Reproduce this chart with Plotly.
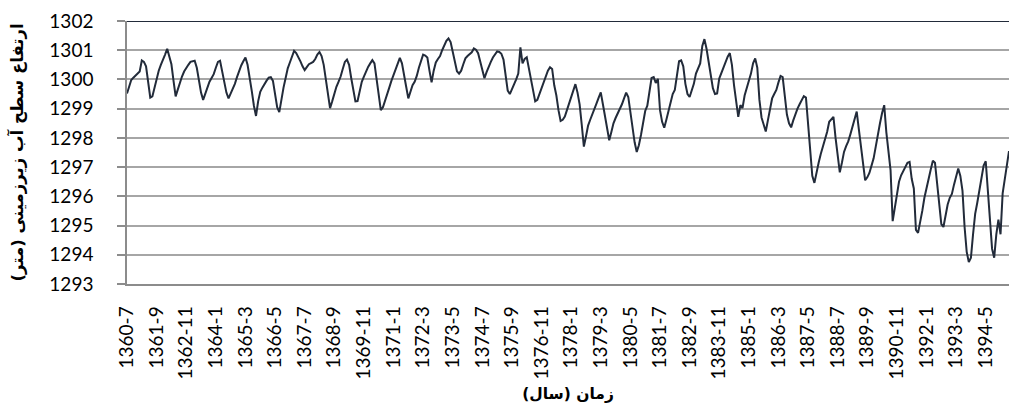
import plotly.graph_objects as go

# Groundwater level (m), monthly, starting 1360-7
levels = [
    1299.52, 1299.80, 1299.98, 1300.06, 1300.13, 1300.18, 1300.27, 1300.65, 1300.60, 1300.45, 1299.90, 1299.38,
    1299.42, 1299.75, 1300.08, 1300.30, 1300.50, 1300.65, 1300.85, 1301.05, 1300.80, 1300.52, 1299.95, 1299.42,
    1299.65, 1299.90, 1300.10, 1300.27, 1300.40, 1300.50, 1300.60, 1300.62, 1300.64, 1300.40, 1299.95, 1299.55,
    1299.30, 1299.52, 1299.75, 1299.92, 1300.05, 1300.18, 1300.40, 1300.60, 1300.64, 1300.25, 1299.86, 1299.55,
    1299.35, 1299.50, 1299.65, 1299.85, 1300.08, 1300.30, 1300.48, 1300.62, 1300.75, 1300.50, 1300.10, 1299.60,
    1299.10, 1298.75, 1299.25, 1299.58, 1299.72, 1299.86, 1299.96, 1300.06, 1300.08, 1299.95, 1299.50, 1299.05,
    1298.88, 1299.35, 1299.72, 1300.05, 1300.38, 1300.58, 1300.82, 1300.98, 1300.90, 1300.78, 1300.62, 1300.45,
    1300.32, 1300.42, 1300.52, 1300.56, 1300.60, 1300.70, 1300.85, 1300.94, 1300.80, 1300.50, 1300.05, 1299.50,
    1299.02, 1299.25, 1299.52, 1299.75, 1299.92, 1300.10, 1300.36, 1300.60, 1300.68, 1300.50, 1300.05, 1299.60,
    1299.25, 1299.26, 1299.62, 1299.92, 1300.10, 1300.28, 1300.43, 1300.55, 1300.66, 1300.55, 1300.00, 1299.45,
    1298.95, 1299.05, 1299.30, 1299.50, 1299.72, 1299.95, 1300.15, 1300.35, 1300.55, 1300.74, 1300.55, 1300.20,
    1299.75, 1299.35, 1299.58, 1299.80, 1299.92, 1300.12, 1300.40, 1300.62, 1300.85, 1300.82, 1300.75, 1300.30,
    1299.90, 1300.30, 1300.58, 1300.70, 1300.80, 1301.00, 1301.15, 1301.32, 1301.40, 1301.28, 1300.95, 1300.55,
    1300.28, 1300.20, 1300.30, 1300.52, 1300.72, 1300.80, 1300.87, 1300.93, 1301.06, 1301.02, 1300.90, 1300.60,
    1300.28, 1300.04, 1300.25, 1300.45, 1300.60, 1300.75, 1300.88, 1300.96, 1300.94, 1300.88, 1300.68, 1300.05,
    1299.62, 1299.50, 1299.65, 1299.80, 1300.00, 1300.20, 1301.10, 1300.55, 1300.70, 1300.76, 1300.40, 1300.05,
    1299.65, 1299.25, 1299.30, 1299.50, 1299.72, 1299.92, 1300.15, 1300.30, 1300.42, 1300.36, 1299.80, 1299.45,
    1298.95, 1298.58, 1298.62, 1298.73, 1298.95, 1299.18, 1299.40, 1299.62, 1299.84, 1299.55, 1299.15, 1298.45,
    1297.70, 1298.05, 1298.42, 1298.62, 1298.80, 1298.95, 1299.18, 1299.38, 1299.56, 1299.15, 1298.78, 1298.35,
    1297.92, 1298.20, 1298.50, 1298.68, 1298.82, 1298.98, 1299.15, 1299.35, 1299.55, 1299.40, 1298.85, 1298.30,
    1297.85, 1297.52, 1297.75, 1298.10, 1298.50, 1298.92, 1299.10, 1299.55, 1300.05, 1300.08, 1299.88, 1300.02,
    1298.95, 1298.55, 1298.35, 1298.62, 1298.90, 1299.22, 1299.50, 1299.64, 1300.20, 1300.62, 1300.65, 1300.45,
    1299.85, 1299.50, 1299.40, 1299.62, 1299.85, 1300.20, 1300.36, 1300.55, 1301.15, 1301.38, 1301.05, 1300.60,
    1300.10, 1299.70, 1299.50, 1299.52, 1300.03, 1300.22, 1300.45, 1300.64, 1300.78, 1300.90, 1300.50, 1299.80,
    1299.20, 1298.72, 1299.12, 1299.02, 1299.45, 1299.72, 1299.90, 1300.20, 1300.55, 1300.72, 1300.40, 1299.30,
    1298.70, 1298.45, 1298.22, 1298.60, 1299.00, 1299.35, 1299.50, 1299.64, 1299.90, 1300.12, 1300.08, 1299.40,
    1298.80, 1298.50, 1298.36, 1298.60, 1298.82, 1299.00, 1299.15, 1299.30, 1299.43, 1299.38, 1298.40, 1297.60,
    1296.70, 1296.46, 1296.85, 1297.15, 1297.45, 1297.70, 1297.93, 1298.20, 1298.55, 1298.62, 1298.72, 1298.00,
    1297.30, 1296.82, 1297.15, 1297.52, 1297.72, 1297.88, 1298.12, 1298.40, 1298.68, 1298.90, 1298.30, 1297.70,
    1297.10, 1296.55, 1296.65, 1296.80, 1297.05, 1297.30, 1297.70, 1298.15, 1298.50, 1298.85, 1299.12, 1298.20,
    1297.50, 1296.90, 1295.15, 1295.65, 1296.10, 1296.50, 1296.72, 1296.85, 1297.00, 1297.15, 1297.18, 1296.60,
    1296.27, 1294.85, 1294.75, 1295.10, 1295.50, 1295.95, 1296.30, 1296.65, 1296.92, 1297.22, 1297.15, 1296.45,
    1295.75, 1295.05, 1294.95, 1295.35, 1295.72, 1295.95, 1296.08, 1296.40, 1296.72, 1296.95, 1296.70, 1296.20,
    1294.95, 1294.10, 1293.75, 1293.90, 1294.70, 1295.40, 1295.78, 1296.25, 1296.70, 1297.05, 1297.20, 1296.10,
    1295.10, 1294.20, 1293.90, 1294.70, 1295.20, 1294.70, 1296.10, 1296.60, 1296.95, 1297.55,
]

start_year, start_month = 1360, 7
months = []
for k in range(len(levels)):
    m = start_month - 1 + k
    months.append(f"{start_year + m // 12}-{m % 12 + 1}")

tick_labels = [
    "1360-7", "1361-9", "1362-11", "1364-1", "1365-3", "1366-5", "1367-7", "1368-9",
    "1369-11", "1371-1", "1372-3", "1373-5", "1374-7", "1375-9", "1376-11", "1378-1",
    "1379-3", "1380-5", "1381-7", "1382-9", "1383-11", "1385-1", "1386-3", "1387-5",
    "1388-7", "1389-9", "1390-11", "1392-1", "1393-3", "1394-5",
]
y_ticks = [1293, 1294, 1295, 1296, 1297, 1298, 1299, 1300, 1301, 1302]

x_title = "زمان (سال)"
y_title = "ارتفاع سطح آب زیرزمینی (متر)"

fig = go.Figure()
fig.add_trace(go.Scatter(
    x=months, y=levels, mode="lines",
    line=dict(color="#222b3a", width=2),
    hoverinfo="x+y",
))

fig.update_layout(
    width=1009, height=407,
    margin=dict(l=127, r=0, t=21, b=123),
    paper_bgcolor="white", plot_bgcolor="white",
    showlegend=False,
    font=dict(family="Lato, 'Liberation Sans', sans-serif", color="black", size=18),
)
fig.update_xaxes(
    type="category", automargin=False,
    range=[0, len(levels) - 1],
    tickmode="array", tickvals=tick_labels, ticktext=tick_labels,
    tickangle=-90, tickfont=dict(size=19),
    showgrid=False, showline=True, linecolor="#8c8c8c", linewidth=1.5,
    ticks="", ticklabelstandoff=13,
    title=dict(text=x_title, font=dict(family="'DejaVu Sans', sans-serif", size=15.5, color="black", weight="bold"), standoff=10),
)
fig.update_yaxes(
    automargin=False,
    range=[1293, 1302], tickmode="array", tickvals=y_ticks,
    tickfont=dict(size=19),
    showgrid=True, gridcolor="#a6a6a6", gridwidth=1.5,
    showline=True, linecolor="#8c8c8c", linewidth=1.5,
    ticks="outside", ticklen=8, tickcolor="#8c8c8c", tickwidth=1.5,
    ticklabelstandoff=20, zeroline=False,
    title=dict(text=y_title, font=dict(family="'DejaVu Sans', sans-serif", size=16.5, color="black", weight="bold"), standoff=22),
)
fig.add_shape(type="line", xref="paper", yref="y", x0=0, x1=1, y0=1302, y1=1302,
              line=dict(color="#222b3a", width=2))

fig.write_html("out.html", config={"displayModeBar": False},
               post_script="document.body.style.margin='0';")
